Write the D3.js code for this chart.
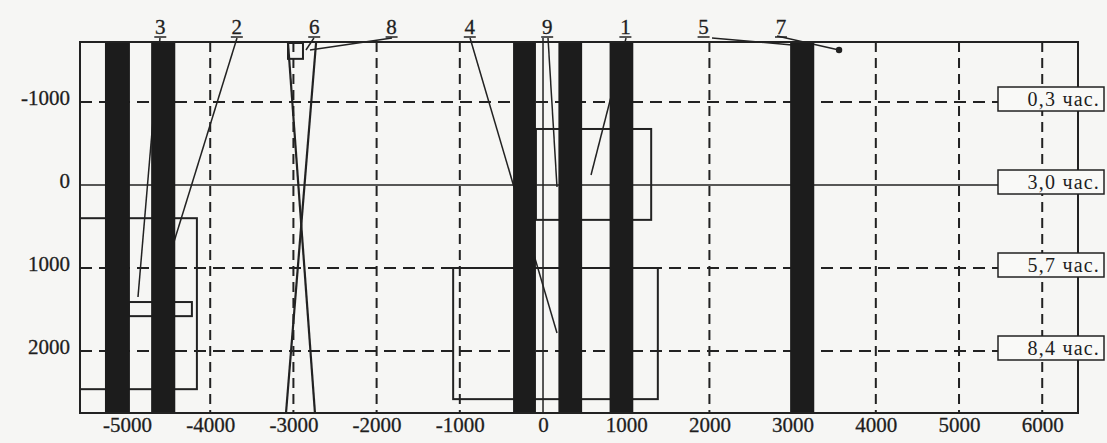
<!DOCTYPE html>
<html lang="ru">
<head>
<meta charset="utf-8">
<title>Схема</title>
<script src="https://cdn.jsdelivr.net/npm/d3@7"></script>
<style>
  body { margin: 0; background: #f6f6f4; }
  svg { display: block; }
  text { font-family: "Liberation Serif", "DejaVu Serif", serif; fill: #1e1e1e; }
</style>
</head>
<body>
<svg id="chart" width="1107" height="443"></svg>
<script>
// ---- data (chart units) ----
var xTicks = [-5000, -4000, -3000, -2000, -1000, 0, 1000, 2000, 3000, 4000, 5000, 6000];
var yTicks = [-1000, 0, 1000, 2000];

// black vertical stripes
var barFrom = [-5265, -4710, -360, 185, 800, 2970];
var barTo   = [-4965, -4420, -85, 470, 1085, 3260];

// outlined rectangles
var rectX0 = [-5565, -4980, -85, -1080, -3065];
var rectX1 = [-4160, -4220, 1300, 1380, -2885];
var rectY0 = [400, 1410, -675, 1000, -1711];
var rectY1 = [2460, 1580, 420, 2580, -1520];

// numbered labels above the frame
var labelNames = ["3", "2", "6", "8", "4", "9", "1", "5", "7"];
var labelX     = [-4600, -3680, -2750, -1820, -880, 50, 990, 1930, 2860];

// leader lines [x1, y1, x2, y2]
var leaders = [
  [-4604, -1771, -4868, 1350],
  [-3678, -1771, -4447, 723],
  [-2753, -1771, -2849, -1627],
  [-1815, -1771, -2801, -1627],
  [-877, -1771, 168, 1783],
  [0, -1771, 0, 2747],
  [60, -1771, 168, 24],
  [998, -1771, 577, -120],
  [2031, -1771, 2993, -1687],
  [2813, -1795, 3558, -1627]
];
// crossing lines (6)
var crossLines = [
  [-3065, -1711, -2741, 2747],
  [-2728, -1711, -3089, 2747]
];
var dotPoint = [3558, -1627];

// time labels on the right
var timeY    = [-1000, 0, 1000, 2000];
var timeText = ["0,3 час.", "3,0 час.", "5,7 час.", "8,4 час."];

// ---- drawing ----
var svg = d3.select("#chart");
var ink = "#222";

var x = d3.scaleLinear().domain([-5565, 6430]).range([80, 1078]);
var y = d3.scaleLinear().domain([-1723, 2747]).range([42, 413]);

// grid
svg.append("g").selectAll("line")
    .data(xTicks.filter(function(d) { return d !== 0; }))
    .enter().append("line")
    .attr("x1", function(d) { return x(d); })
    .attr("x2", function(d) { return x(d); })
    .attr("y1", y(-1723)).attr("y2", y(2747))
    .attr("stroke", ink).attr("stroke-width", 2)
    .attr("stroke-dasharray", "10,6");

svg.append("g").selectAll("line")
    .data(yTicks)
    .enter().append("line")
    .attr("x1", x(-5565)).attr("x2", 998)
    .attr("y1", function(d) { return y(d); })
    .attr("y2", function(d) { return y(d); })
    .attr("stroke", ink)
    .attr("stroke-width", function(d) { return d === 0 ? 1.5 : 2; })
    .attr("stroke-dasharray", function(d) { return d === 0 ? null : "12,7"; });

// outlined rectangles
svg.append("g").selectAll("rect")
    .data(rectX0)
    .enter().append("rect")
    .attr("x", function(d) { return x(d); })
    .attr("y", function(d, i) { return y(rectY0[i]); })
    .attr("width", function(d, i) { return x(rectX1[i]) - x(d); })
    .attr("height", function(d, i) { return y(rectY1[i]) - y(rectY0[i]); })
    .attr("fill", "none").attr("stroke", ink).attr("stroke-width", 2);

// leaders
svg.append("g").selectAll("line")
    .data(leaders)
    .enter().append("line")
    .attr("x1", function(d) { return x(d[0]); })
    .attr("y1", function(d) { return y(d[1]); })
    .attr("x2", function(d) { return x(d[2]); })
    .attr("y2", function(d) { return y(d[3]); })
    .attr("stroke", ink).attr("stroke-width", 1.5);

svg.append("g").selectAll("line")
    .data(crossLines)
    .enter().append("line")
    .attr("x1", function(d) { return x(d[0]); })
    .attr("y1", function(d) { return y(d[1]); })
    .attr("x2", function(d) { return x(d[2]); })
    .attr("y2", function(d) { return y(d[3]); })
    .attr("stroke", ink).attr("stroke-width", 2.2);

svg.append("circle")
    .attr("cx", x(dotPoint[0])).attr("cy", y(dotPoint[1]))
    .attr("r", 3.2).attr("fill", ink);

// black stripes
svg.append("g").selectAll("rect")
    .data(barFrom)
    .enter().append("rect")
    .attr("x", function(d) { return x(d); })
    .attr("y", y(-1723))
    .attr("width", function(d, i) { return x(barTo[i]) - x(d); })
    .attr("height", y(2747) - y(-1723))
    .attr("fill", "#1c1c1c");

// frame
svg.append("rect")
    .attr("x", x(-5565)).attr("y", y(-1723))
    .attr("width", x(6430) - x(-5565))
    .attr("height", y(2747) - y(-1723))
    .attr("fill", "none").attr("stroke", ink).attr("stroke-width", 2);

// axes (plain hyphen for minus, as in the original)
var fmt = function(d) { return String(d); };
var xAxis = d3.axisBottom(x).tickValues(xTicks).tickSize(0).tickPadding(4).tickFormat(fmt);
var gx = svg.append("g").attr("transform", "translate(0," + y(2747) + ")").call(xAxis);
gx.select(".domain").remove();
gx.selectAll("text").attr("font-size", 21)
    .style("font-family", "'Liberation Serif', serif").attr("fill", "#1e1e1e")
    .attr("stroke", "#1e1e1e").attr("stroke-width", 0.3);

var yAxis = d3.axisLeft(y).tickValues(yTicks).tickSize(0).tickPadding(10).tickFormat(fmt);
var gy = svg.append("g").attr("transform", "translate(" + x(-5565) + ",0)").call(yAxis);
gy.select(".domain").remove();
gy.selectAll("text").attr("font-size", 21).attr("dy", "0.1em")
    .style("font-family", "'Liberation Serif', serif").attr("fill", "#1e1e1e")
    .attr("stroke", "#1e1e1e").attr("stroke-width", 0.3);

// numbered labels
var lab = svg.append("g").selectAll("g")
    .data(labelNames)
    .enter().append("g")
    .attr("transform", function(d, i) { return "translate(" + x(labelX[i]) + ",0)"; });
lab.append("text")
    .attr("y", 34).attr("text-anchor", "middle")
    .attr("font-size", 21)
    .attr("stroke", "#1e1e1e").attr("stroke-width", 0.3)
    .text(function(d) { return d; });
lab.append("line")
    .attr("x1", -6).attr("x2", 6).attr("y1", 37).attr("y2", 37)
    .attr("stroke", ink).attr("stroke-width", 1.5);

// time boxes
var tb = svg.append("g").selectAll("g")
    .data(timeText)
    .enter().append("g")
    .attr("transform", function(d, i) { return "translate(998," + (y(timeY[i]) - 3) + ")"; });
tb.append("rect")
    .attr("x", 0).attr("y", -12).attr("width", 106).attr("height", 24)
    .attr("fill", "#f9f9f7").attr("stroke", ink).attr("stroke-width", 1.5);
tb.append("text")
    .attr("x", 102).attr("y", 7).attr("text-anchor", "end")
    .attr("font-size", 20).attr("letter-spacing", 1.2)
    .text(function(d) { return d; });
</script>
</body>
</html>
